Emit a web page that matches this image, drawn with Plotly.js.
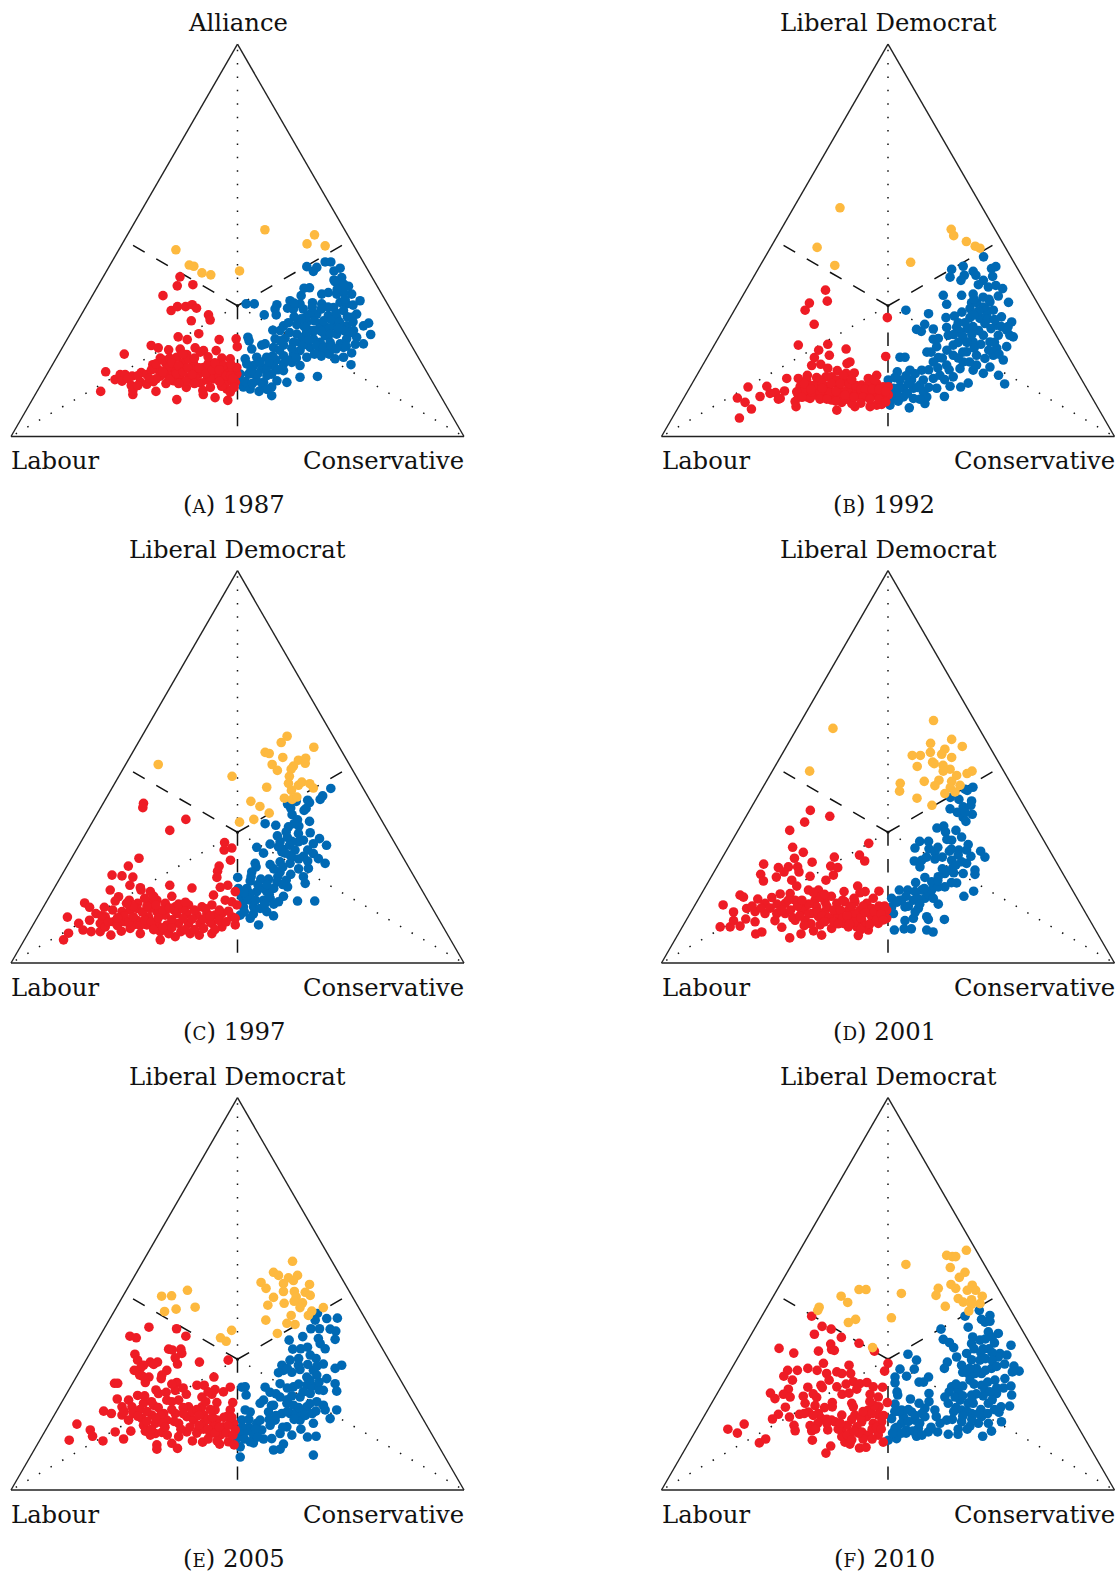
<!DOCTYPE html><html><head><meta charset="utf-8"><script src="https://cdn.plot.ly/plotly-3.0.1.min.js"></script><style>html,body{margin:0;padding:0;background:#fff}</style></head><body><div id="c" style="width:1120px;height:1573px"></div><script>
// Every pair is [Conservative minus Labour share, third-party share], both in percent.
const yelA=[[-27.2,47.6],[-21.3,43.7],[-19.3,43.4],[-15.7,41.7],[-11.8,41.2],[0.9,42.2],[12.1,52.7],[30.7,49.1],[34,51.4],[38.7,48.6]];
const redA=[[-25.4,40.7],[-26.6,38.4],[-19.7,38.7],[-32.9,35.9],[-29.3,32.1],[-26.5,33.1],[-22.9,33.1],[-20,33.6],[-18.1,32.7],[-12.8,31],[-12.1,29.7],[-20.4,29.5],[-26.2,25.4],[-22.2,24.7],[-17.1,26.2],[-8.1,24.7],[-0.6,24.9],[-0.1,22.9],[-38.1,23.2],[-35,22.6],[-50,21],[-58.2,16.5],[-54.1,14.5],[-60.4,11.5],[-46.2,10.7],[-36,11.5],[-26.8,9.4],[-22.6,12.5],[-15.1,10.7],[-9.9,9.9],[-4.3,9.2],[-4.7,12.1],[-42.5,16.3],[-51.8,15.8],[-49.6,15.8],[-46.5,15.4],[-51,14.1],[-46.9,13],[-42.9,13.9],[-40,13.3],[-37.1,14],[-31.6,13.5],[-28.2,14.2],[-24.9,14.5],[-21.2,15.1],[-16.2,13.7],[-13.5,14.4],[-10.6,14.7],[-6.9,15.1],[-4,14.2],[-1,13.8],[-1.8,15.9],[-4.7,16.8],[-8.4,18.5],[-3.2,19.8],[-6.9,20],[-9.4,21.9],[-15,21.9],[-18.7,22.6],[-16.5,21.5],[-25.3,22.3],[-22.4,20.9],[-30.4,22.1],[-34.1,20],[-37.4,18.3],[-34.9,17],[-31.5,18.5],[-26.8,20.2],[-23.8,18.9],[-19.4,18.5],[-15,17.6],[-12.8,16.8],[-29,16.4],[-25.3,15.9],[-34.1,15.4],[-20.1,17.2],[-17.2,15.9],[-9.1,15.9],[-6.2,13.4],[-0.3,15.9],[-46.2,11.7],[-15.3,11.7],[-3.2,11.3],[-28.2,17.6],[-21.6,19.8],[-30.9,17.6],[-2.5,17.6],[-6.2,18.1],[-12.1,15.1],[-18.7,15.1],[-22.6,14.2],[-32.6,15.9],[-35.9,14.7],[-0.3,17.6]];
const redA2=[[-44,15.5],[-40,15.8],[-38,17],[-36,18.5],[-33,19.5],[-30,20],[-29,18.8],[-27,16],[-26,18],[-24,16.5],[-22,17.5],[-20,15.8],[-19,13.5],[-17,17.5],[-14,16],[-13,18.5],[-11,17],[-10,18.8],[-8,17],[-7,12.8],[-5,15.5],[-3,15.5],[-2,14.8],[-1.5,12.5],[-3,18.5],[-8,14],[-12,12.5],[-30,14.5],[-26,13.5],[-33,16.5],[-39,14.8],[-44,13],[-48.5,14.8],[-24,21],[-19,20],[-13,20.3]];
const bluA=[[3.8,33.8],[7.4,33.8],[11.8,31],[17.4,33.6],[16.6,32.5],[17.1,31],[23.2,34.6],[22.1,32.7],[24.7,32.5],[28.1,35.9],[29.4,37.8],[31.8,37.9],[27.6,33.8],[33.1,34.1],[37.2,33.8],[30.6,43.3],[35,43.1],[33.5,42.1],[38.7,44.5],[41.2,44.5],[42.6,42.2],[45.3,42.9],[46,40.5],[42.6,39.9],[44.6,38.4],[49,38.3],[50.4,36.3],[54.1,34.6],[40.1,36.7],[37.2,36.3],[43.8,36.3],[46.8,36.7],[45.3,34.2],[48.2,33.8],[42.4,32.9],[46.8,32.1],[52.6,31.2],[50.4,30.4],[57.9,28.9],[55.6,28.2],[58.8,26],[55.6,23.6],[52.6,25.3],[48.2,28.2],[43.8,30.4],[40.1,30.8],[35,31.2],[32.1,31.2],[36.5,28.2],[30.6,29.1],[32.1,27],[26.2,28.5],[20.3,28.2],[15.6,27.1],[18.8,27],[16.6,24.9],[4.6,25.3],[5.1,24.4],[6.3,22.3],[10.7,23.3],[12.2,23.6],[20.3,23.3],[26.2,26.1],[27.6,24],[33.5,24.9],[38.7,25.7],[43.8,26.1],[48.2,24.9],[46.8,22.7],[50.4,21.3],[50.1,18.3],[43.1,19.8],[46.8,20.2],[39.4,21.9],[36.5,21.9],[32.1,22.7],[27.6,21.9],[24.7,21],[20.3,20.6],[15.9,22.7],[12.9,20.2],[8.5,20.2],[3.4,19.8],[7.1,18.1],[10.7,17.2],[15.9,18.1],[20.3,18.5],[27.6,18.1],[24,18.9],[30.6,20.2],[4.9,15.9],[1.2,15.9],[2.6,12.6],[5.6,12.1],[8.5,14.2],[11.5,13.8],[15.1,15.9],[17.4,14.2],[15.1,10.4],[15.1,12.6],[21.8,13.8],[27.6,15.1],[35.3,15.3],[11.2,13],[20.3,16.8],[33.5,27],[39.4,27.8],[42.4,28.2],[51.2,27],[45.3,23.6],[40.9,24],[36.5,24],[29.1,25.3],[24.7,24],[18.8,24.4],[12.9,17.6],[4.1,18.5],[1.2,14.2],[7.1,15.9]];
const bluA2=[[30,30.3],[34,29.5],[38,29.5],[41.5,29.8],[45,29.2],[48.5,30.5],[51,29.2],[47,27],[50,26.5],[44.5,27.5],[41,26.2],[37,26.8],[34,27],[30.5,26.5],[29,23.3],[31.5,24.6],[35,23.2],[38,22.8],[41.5,23],[43.5,22.3],[48,23],[52,23.5],[34,21],[37,20.5],[40.5,21],[29.5,28],[28,30],[25,30.5],[22.5,29],[23,26.5],[21,25],[24,22.5],[18.5,22],[22,19.5],[26,20],[17,19.5],[14,19],[10,19],[13,15.5],[9,16],[6,17],[3.5,14],[6.5,13.5],[13,12],[9.5,11.5],[18,17],[15.5,20.5],[43,39.5],[47,38.8],[44,37.5],[47.5,35],[51,33.5],[43.5,31.5],[40,33],[37,32.5],[33,33],[29,32.5],[25,34]];
const yelB=[[-21.2,58.3],[-31.3,48.2],[-23.5,43.6],[10,44.4],[27.9,52.8],[29,51.2],[34.6,49.7],[38.5,48.5],[40.6,48]];
const redB=[[-27.6,37.3],[-26.8,34.5],[-34.7,34],[-36.6,32.2],[-32.6,28.6],[-0.3,30.3],[-1,20.4],[-39.6,23.3],[-26.6,23.5],[-30.6,22],[-18.5,22.3],[-25.9,20.7],[-32.5,20.1],[-16.8,19],[-18.1,18.6],[-33.7,18.1],[-29.7,18.4],[-26.6,17.4],[-22.4,16.8],[-14.9,16.2],[-18.5,16.1],[-44.7,14.8],[-61.8,12.6],[-53.5,12.8],[-66.5,9.8],[-63.1,8.7],[-60.3,7],[-65.6,4.7],[-56.5,10.2],[-52.1,11],[-49.7,11.2],[-45.7,11.6],[-48.4,9.5],[-40.6,7.6],[-22.6,6.7],[-14.6,7.6],[-5,15.6],[-8.7,14.8],[-39.6,14.8],[-35.6,15.6],[-31.5,15],[-27.4,15.2],[-24.9,15.2],[-38.8,12.7],[-35.1,13.1],[-30.7,12.7],[-27.1,12.7],[-22.6,14.4],[-19,14],[-15.3,12.7],[-11.6,13.1],[-8.7,13.1],[-5,13.5],[-2.1,12.7],[0.1,12.7],[-39.6,10.6],[-35.9,10.1],[-32.2,10.6],[-28.5,10.6],[-24.1,10.1],[-20.4,10.6],[-16.8,10.6],[-13.1,10.6],[-9.4,10.6],[-5.7,10.6],[-2.1,10.1],[0.1,10.6],[-5,8],[-7.9,7.6],[-2.8,8.2],[-16,8.4],[-20.4,8.7],[-24.9,9.3],[-34.4,9.7],[-41,8.9],[-47.6,9.7],[-37.4,11.4],[-33.7,11.4],[-30,11.4],[-25.6,11.4],[-21.9,12.3],[-18.2,11.8],[-13.8,11.4],[-7.9,11.4],[-3.5,11.4],[-40.3,11.4],[-19.7,15.6],[-30,14.4],[-35.9,14.4]];
const redB2=[[-37,13.5],[-33,13],[-29,13.5],[-25,13.5],[-23,11.5],[-21,13.5],[-17,13.5],[-14,13],[-12,12],[-10,12],[-7,12],[-4,12],[-1,11.5],[-38,10],[-34,12],[-30,9.5],[-27,9.5],[-23,9],[-18.5,9.5],[-15,10],[-11,10],[-8,9.5],[-4,9.5],[-1,8.8],[-29,12.3],[-19,10.5],[-12,8.5],[-16,14.5],[-6,14.5]];
const bluB=[[42.2,45.8],[33.2,43.4],[28.1,42.6],[27.4,40.6],[33.7,41.1],[32.2,39.8],[37.6,42.1],[38.8,41.1],[45.7,42.8],[47.6,43.3],[46.2,40.8],[42.1,39.8],[39.9,38.7],[44.3,38.1],[47.6,38.5],[50.6,37.7],[24.4,36],[32.5,36],[37.6,36.3],[48.7,35.8],[53.2,34.2],[25.9,33.7],[36.9,34.1],[39.1,34.1],[36.2,32.6],[7.9,32.2],[17.9,31.3],[25.6,30.3],[29.3,30.7],[32.6,31.7],[36.2,30.3],[45,34.3],[43.5,32.2],[46.5,32.2],[50.1,30.5],[54.6,29.2],[55.3,25.4],[52.4,27.1],[47.9,28.4],[42.8,28.8],[40.6,30.1],[43.5,30.9],[25.9,27.8],[30.3,27.9],[35,27.5],[37.6,24.1],[31.8,26.7],[12.6,27.3],[14.7,26.8],[16.2,28.6],[20,27.4],[20,24.8],[22.2,25],[21.5,22.9],[26.6,25.8],[28.8,23.3],[34.7,24.1],[42.1,25.8],[45,24.1],[52.4,22.9],[50.9,19.5],[46.5,20.7],[42.8,19.9],[39.1,20.7],[34.7,21.6],[28.8,20.7],[22.2,20.1],[17.2,21.5],[5.3,20.2],[7.5,20.2],[20,19],[25.9,18.2],[31.8,17.3],[37.6,16.9],[42.1,16.1],[45,17.7],[48.8,15.6],[51.5,13.4],[35.4,13.6],[32.1,12.6],[27.4,12.8],[24.9,10.2],[21.5,12.3],[16.3,8.4],[17.1,10.1],[20,14.8],[14.9,16.9],[9.7,16.9],[4.1,16.5],[0.1,14.4],[5.3,14.4],[10.4,14.4],[15.6,14.4],[22.9,15.6],[28.8,15.2],[2.4,12.3],[6.8,12.3],[11.2,12.3],[15.6,11.4],[2.4,9.7],[6.8,10.1],[11.2,9.7],[0.9,8],[9.4,7.3],[3.8,11],[14.1,13.1],[33.2,19],[39.1,18.2],[53.8,25.8],[48.7,25.8]];
const bluB2=[[38,35],[42,35.5],[44.5,35],[42,33],[44,30],[47,29.8],[45.5,27.5],[50,28],[53,28],[40,27],[37.5,28],[34,29],[31,29],[29,26],[33,25.5],[37,26],[44.5,22],[48,22.5],[41,23.5],[38,22.5],[31,24],[33,21.5],[36,19],[31,20],[26,22],[24,20],[19,21.5],[22,17.5],[18,17],[12,16],[8,15.5],[3,15],[13,12.5],[9,13.5],[5,12.5],[1.5,11],[4.5,9],[8.5,11],[14,9.5],[18,12.5],[25,14.5],[40,32],[38,31],[35,24],[27,17],[47,24],[49,21]];
const yelC=[[21.9,57.8],[19.3,56.2],[33.7,55],[12.2,53.7],[14,53.4],[20,52.4],[26.9,51.7],[30.1,52.2],[29.9,50.9],[15.3,50.6],[17.6,49.1],[24.7,50.2],[23.7,49.4],[22.9,47.6],[22.5,45.8],[23.8,44],[26.9,45.3],[28.4,46.1],[31.9,45.7],[33.5,44.6],[12.9,44.8],[20.7,42],[24.1,41.7],[26.2,42.3],[-2.4,47.6],[-35,50.6],[5.9,41.2],[9.9,39.9],[14,38.2],[7.2,36.6],[0.9,35.9]];
const redC=[[-41.5,40.7],[-41.8,39.6],[-22.8,36.6],[-29.9,33.8],[-5.7,30.7],[-5.9,28.8],[-2.5,29.3],[-3.1,26.2],[-8.1,24.7],[-8.8,23.4],[-9.1,21.8],[-43.5,26.7],[-48.2,24.7],[-55.4,22.4],[-51,22.2],[-46.2,21.9],[-47.5,19.8],[-42.9,19.2],[-42.6,18.6],[-38.5,18.2],[-29.9,19.8],[-20.1,19.1],[-29,17],[-7.6,19.3],[-4.3,19.8],[-56.2,18.6],[-52.5,16.9],[-54,15.8],[-47.8,16],[-67.5,15.3],[-65.3,14.2],[-58.8,14.2],[-75.1,11.7],[-70.1,10.1],[-74.6,7.6],[-76.8,5.9],[-68.2,8.4],[-64.6,8],[-65.3,10.9],[-62.5,12.6],[-55.1,13.5],[-58.4,11.8],[-51,13.1],[-47.4,13.5],[-44.1,15.2],[-39.3,15.6],[-35.6,16],[-31.9,15.2],[-27.5,14.3],[-21.6,14.8],[-15.7,14.3],[-10.6,17.3],[-5.4,16],[-2.5,15.6],[-0.3,14.8],[-11.3,14.8],[-6.9,12.6],[-2.5,11.8],[-1,9.7],[-60.6,8],[-55.9,7.1],[-51.3,8.1],[-42.9,7.5],[-34.1,5.9],[-27.5,6.7],[-20.9,7.5],[-16.9,7.1],[-11.3,7.5],[-6.9,9.2],[-34.1,8],[-30.4,7.5],[-60.6,10.1],[-54.7,10.5],[-49.6,10.5],[-44.4,10.9],[-39.3,11.8],[-35.6,13.1],[-31.9,12.2],[-26.8,12.6],[-22.4,12.6],[-17.9,12.2],[-13.5,12.6],[-9.9,12.2],[-58.4,9.2],[-47.4,8.8],[-40,9.7],[-35.6,10.1],[-31.2,9.7],[-26,10.1],[-21.6,10.1],[-16.5,10.1],[-11.3,10.1],[-1,11.4],[-44.4,13.9],[-38.5,13.9],[-1,18.2],[-12.1,10.5],[-51.8,10.5],[-45.9,9.7]];
const redC2=[[-57,10.5],[-53,9.5],[-50,12],[-48,10.5],[-46,11.8],[-43,9.5],[-41,11],[-38,10.5],[-37,8.5],[-35,11.5],[-33,9],[-33,13.5],[-29,11],[-29,9],[-28,13.5],[-25,8],[-24,11.3],[-24,13.8],[-23,8.5],[-20,11.2],[-19,8.5],[-19,13.5],[-15,11.2],[-15,8.8],[-14,13.8],[-12,12],[-10,8.5],[-8,10.8],[-8,13.5],[-5,10.5],[-4,13.2],[-42,13],[-40,14.5],[-36,14.8],[-30,14],[-26,15],[-23,15.5],[-53,11.5],[-60,12],[-46,14.5],[-49,15.2],[-41,16.5],[-37,17]];
const bluC=[[41.2,44.5],[37.6,42.6],[36.5,41.7],[31,41.5],[31.8,40.9],[25.9,41.2],[22.1,40.5],[23.5,39.5],[24.1,37.8],[29.4,38.9],[30.3,39.4],[31.8,36.1],[26.5,36.5],[27.1,34.9],[12.2,35.5],[16.9,35.1],[22.5,34.7],[21.5,33.4],[17.6,32.4],[32.1,33.2],[36.2,31.7],[26.9,33],[29.1,31.3],[33.5,30.4],[39.3,30],[14.4,30.3],[8.5,29.5],[11.5,28],[18.1,29.6],[19.6,28.3],[25.4,28.8],[29.1,27.2],[33.5,27.9],[35.7,26.6],[38.7,25.4],[31.3,24.1],[7.8,25.4],[8.2,24.5],[6.3,23.2],[14.4,25.1],[18.8,25.8],[23.2,25.4],[18.8,23.2],[23.5,22.6],[0.1,21.8],[5.6,20.9],[10.3,21.4],[13.7,21.4],[17.8,22],[21.5,21.1],[29.1,22],[29.9,20.3],[22.1,19.4],[17.4,20.7],[0.4,19],[4.1,19],[8.5,18.2],[12.9,18.2],[20.3,17],[18.1,15.6],[26.5,15.8],[34.1,15.8],[1.9,16.9],[5.6,16],[11.5,16],[14.4,16.5],[2.6,14.3],[7.1,14.3],[10,13.9],[12.9,13.1],[15.9,12],[5.6,11.4],[9.3,9.7],[1.2,12.2],[11.5,19],[5.6,17.7],[23.2,27.5],[26.9,30.9],[18.8,30.9],[2.6,15.6]];
const bluC2=[[20,29],[23,30],[24,27],[27,26.5],[31,28.8],[31,26],[27,24],[20,24.5],[21,28],[16,24],[20,20],[16,19],[13,20],[9,20],[4,17],[8,16],[3,13],[7,12.5],[16,15],[12,15],[6,22],[24,31],[22,32],[25,35.5],[14,17.5],[3,18]];
const yelD=[[20.1,61.8],[28.1,57],[-24.3,59.8],[18.8,56],[32.8,55.2],[25.1,54.5],[18.7,53.7],[23.7,53.2],[10.7,52.9],[14.3,52.9],[28.1,52.4],[19.7,51.2],[20.4,50.8],[12.9,50.1],[24.3,50.4],[27.4,49.4],[24.4,48.9],[37.1,48.9],[34.9,48.3],[30.3,47.8],[-34.6,48.9],[16,46.3],[22.5,46.6],[28.1,46.3],[20.7,45.2],[5.4,45.8],[5.1,43.8],[27.5,44.7],[31.8,45.3],[29.6,43.6],[25.1,43.2],[12.8,42],[19.4,40.2]];
const redD=[[-34.3,38.9],[-25.7,37.4],[-36.8,35.9],[-43.4,33.8],[-8.5,30.5],[-42.1,29.5],[-37.4,28.2],[-41.3,26.7],[-23.7,27],[-12.6,27.5],[-10.3,26],[-33.5,25.7],[-54.9,25.2],[-48.4,24.3],[-44,24.5],[-39.9,24.5],[-45.9,23.2],[-39.3,23.2],[-25.3,24.7],[-22.2,24.3],[-24.1,22.4],[-34.4,22.1],[-56.2,22.6],[-49.3,21.9],[-55,20.9],[-42.5,21.1],[-27.4,21.1],[-40.3,19.6],[-13.4,19.6],[-4,18.3],[-19.4,18.2],[-12.4,17.9],[-10.1,18.2],[-65.3,17.3],[-63.8,16.8],[-72.8,14.8],[-68.2,13],[-62.4,13.9],[-57.5,16.3],[-51.3,16.7],[-47.6,17.6],[-43.2,17.7],[-35.1,18.6],[-30.7,18.6],[-58.7,13.1],[-54.3,15.2],[-54.3,12.6],[-49.1,12.6],[-45.4,15.2],[-41,16],[-36.6,14.3],[-32.2,16],[-27.8,15.6],[-22.6,15.2],[-19,15.6],[-14.6,15.6],[-9.4,15.2],[-6.5,16.5],[-2.8,14.3],[-0.6,13.5],[-0.6,11.4],[-4.3,10.1],[-8.7,8.4],[-13.1,7],[-17.5,9.2],[-24.9,8.8],[-30,9.7],[-29.3,7.1],[-32.9,8.2],[-38.4,7.4],[-43.4,6.4],[-46.9,9.1],[-55.7,7.9],[-58.4,7.4],[-74.1,9.2],[-69.7,9.2],[-68.2,10.8],[-65.3,9.4],[-62.8,11.2],[-58.7,10.5],[-49.9,10.8],[-41,10.9],[-36.6,10.9],[-30.7,11.8],[-25.6,11.4],[-21.2,11.4],[-16.8,11.4],[-11.6,10.9],[-7.2,11.8],[-45.4,12.6],[-38.1,13.5],[-33.7,12.6],[-27.8,13.1],[-22.6,12.6],[-17.5,13.5],[-12.4,13.5],[-7.2,13.9],[-14.6,12.6],[-19.7,10.1],[-13.8,9.2],[-31.5,14.3]];
const redD2=[[-52,14],[-49,15],[-47,13.5],[-43,13.5],[-42,11.5],[-40,14.5],[-39,12],[-35,15],[-35,12.5],[-34,10],[-31,13],[-30,16.8],[-29,12],[-27,14.5],[-26,11.5],[-25,17],[-24,13.5],[-24,10.5],[-21,13.5],[-20,16],[-20,11.5],[-18,12],[-16,14.5],[-15,16.5],[-15,10.5],[-12,11.5],[-11,14.5],[-10,12.8],[-10,9.5],[-8,10],[-6,13],[-5,11],[-4,14.5],[-3,12.5],[-2,11],[-1.5,14.5],[-28,17.5],[-33,18],[-38,16],[-44,16],[-56,14],[-60,14.5],[-37,9.5],[-28,10.5],[-22,10],[-17,10],[-12,8.5]];
const bluD=[[37.5,44.8],[34,44.3],[27.5,42.2],[31.3,41.7],[36.9,41.3],[36.6,40.2],[33.2,39.8],[27.4,39.3],[30.6,38.4],[37.2,37.9],[33.2,37.1],[34.4,36.1],[21.6,34.4],[24.6,34.9],[25.4,33.4],[30,33.8],[32.5,32.1],[28.1,31.3],[14,31],[17.9,31],[11.9,29.3],[18.1,29.1],[20.7,28.2],[27.1,28.5],[31.3,28.8],[35.4,30.2],[34.7,28.8],[40.9,28.5],[42.8,27],[36.6,27.2],[11.6,26],[14.9,26.2],[14.1,24.5],[20.7,26.5],[28.1,26.2],[32.5,25.8],[34.7,25.4],[28.8,24.5],[33.2,22.8],[38.4,23.7],[38.4,22.6],[25.1,22.8],[22.2,22],[16.3,21.8],[30.3,20.4],[12.2,20.5],[25.1,19.4],[19.3,18.6],[37.8,18.3],[33.5,17],[5,18.6],[8.7,18.6],[14.9,18.6],[1.6,16.5],[6,16],[11.2,16],[16.3,16.5],[22.2,15],[1.6,14.3],[7.5,14.3],[13.4,13.9],[2.4,12.6],[11.2,11.4],[7.5,10.8],[17.1,11.8],[24.9,11.1],[17.8,11.1],[2.8,8.4],[7.1,8.7],[10.3,8.7],[17.1,8.4],[19.9,7.9],[19.3,20.7],[22.2,19.4],[11.9,18.2]];
const bluD2=[[5,16],[8,17],[13,16.5],[14,15],[9,14.5],[4,15.5],[18,17.5],[20,16.5],[16,19],[22,21],[24,24],[26,23.5],[29,23],[30,25],[31,27.5],[28,29],[24,27],[22,29.5],[26,31.5],[17,27],[12,13],[28,20.5],[35,44],[34,38.5]];
const yelE=[[24.3,58.3],[15.9,55.5],[18.1,54.7],[26.5,54.7],[22.5,54.1],[24.7,53.4],[20.3,52.6],[10.4,52.9],[12.6,51.4],[31.8,52.4],[20.3,50.6],[25.1,50.6],[29.9,50.4],[32.1,49.6],[15.9,49.1],[25.9,49.2],[25,48.1],[20.6,47.6],[13.4,47.1],[28.7,47.7],[27.6,46.5],[37.9,46.5],[32.8,45.6],[31.3,44.5],[23.7,44.5],[12.5,43.3],[21.8,42.5],[25.4,42.2],[17.6,39.9],[-22.1,50.9],[-33.5,49.4],[-29.1,49.5],[-18.7,46.6],[-27.1,46.1],[-32.2,45.5],[-2.6,40.7],[-7.5,38.8],[-5,37.9]];
const redE=[[-39.1,41.5],[-26.9,41.1],[-47.5,39.2],[-44.7,38.8],[-22.8,39.2],[-30.4,35.9],[-28.8,35.7],[-25,35.9],[-24.6,34.8],[-27.5,33.7],[-26.5,32.1],[-45.3,34.6],[-44.1,33.1],[-35.3,32.6],[-38.5,32.6],[-41.5,31.8],[-45.6,30.5],[-42.9,31],[-31.2,30.5],[-33.4,29.3],[-33.7,28.4],[-43.2,29.3],[-39.1,28.8],[-40.7,27.4],[-16.8,32.6],[-4.1,33.1],[-10.4,28.8],[-54.3,27.2],[-52.9,27.2],[-26.8,27.4],[-17.9,26.7],[-14.7,26.7],[-3.2,26.2],[-9.9,25.6],[-6.2,25],[-34.9,24.6],[-31.5,24.9],[-27.5,25.4],[-22.6,24.4],[-44.1,24.1],[-53.1,23.2],[-48.1,22.9],[-15.7,23.7],[-11.3,24.4],[-2.1,22.3],[-9.1,22.3],[-59.1,20.1],[-55.7,19.5],[-51,21.2],[-46.6,21.2],[-41.5,22.1],[-37.1,21.6],[-31.2,22.9],[-26,22.9],[-21.6,21.2],[-15.7,21.2],[-9.9,20.4],[-3.2,20.4],[-51,19.1],[-48.1,17.8],[-42.2,18.2],[-37.8,19.1],[-32.6,19.5],[-27.5,19.5],[-22.4,18.7],[-15,19.1],[-9.1,17.8],[-4.7,18.7],[-41.5,16.5],[-36.3,17],[-31.2,17.8],[-26,17],[-19.4,17.8],[-15,17],[-10.6,16.5],[-6.2,16.1],[-1.8,17],[-70.9,16.8],[-65,15.3],[-64,13.7],[-74.3,12.7],[-59.4,12.5],[-54,14.8],[-50.3,13],[-47.1,15],[-40.7,15],[-36.3,14.4],[-33.4,14.7],[-35.6,11.5],[-35.6,10.4],[-29,11.9],[-26.5,10.6],[-26,13.6],[-22.4,14.8],[-19.9,12.5],[-15.4,12.2],[-12.1,14.4],[-7.9,11.7],[-4,12.3],[-1.5,11.5],[-17.2,15.3],[-7.6,14],[-1,15.3],[-38.5,14]];
const redE2=[[-50,20],[-46,19.5],[-43,20.5],[-40,20],[-38,22.5],[-35,21],[-34,19],[-36,18.2],[-33,17],[-29,20.5],[-29,22.5],[-28,17.5],[-24,21],[-24,19.5],[-25,15.5],[-20,20],[-18,20.5],[-17,19],[-18,14.5],[-15,15.5],[-13,18],[-13,15.5],[-13,13],[-11,18.5],[-10,14.5],[-9,12.5],[-8,16],[-6,18.5],[-5,14.5],[-4,16.5],[-2,14],[-2.5,18.5],[-12,20.5],[-17,16.5],[-21,16],[-14,22.5],[-13,25],[-40,17.5],[-44,18.8],[-38,15.5],[-32,16],[-31,14],[-41,24],[-36,25.5],[-29,27],[-24,26],[-42,29],[-37,32]];
const bluE=[[35.3,45],[39.4,43.7],[44.1,43.8],[34.3,43.3],[36.2,41.1],[32.4,41.1],[40.9,41],[43.4,40.5],[22.8,38.2],[28.8,39.1],[35.7,38.6],[43.1,38.4],[36.5,37.3],[38.7,36],[24.4,35.9],[27.9,36],[30.9,36.4],[32.1,34.4],[34.7,33.5],[23.2,33.1],[19.6,31.8],[26.9,31.8],[27.6,30.7],[20.3,30.5],[18.1,29.9],[37.9,32.1],[46,31.8],[43.1,31],[33.5,30.5],[30.6,28.8],[35,29.3],[39.4,28.4],[43.1,27.1],[43.8,25.2],[37.9,25.4],[30.6,26.7],[24.7,26.3],[18.8,27.1],[1.9,26.2],[3.4,26.3],[12.2,26.2],[14.4,24.9],[3.8,24.2],[11.5,22.9],[10,22.1],[18.8,23.7],[15.9,21.6],[21.8,22.1],[27.6,23.7],[32.1,24.6],[35,22.5],[37.9,21.6],[43.8,20.4],[40.9,18.2],[38.7,20.4],[34.6,20.1],[30.6,21.2],[24.7,21.6],[19.6,19.5],[13.7,19.9],[23.2,19.5],[27.6,17.8],[33.5,17],[3.4,20.4],[5.6,19.9],[1.9,17.8],[8.5,17],[14.4,16.5],[18.8,14.4],[24,14],[10.7,15.3],[30.9,13.5],[34.7,13.7],[1.9,14.4],[7.1,14],[11.5,13],[15.1,13.1],[20.3,11.7],[18.8,10.4],[15.9,10.2],[5.6,12.3],[1.2,11],[1.2,8.4],[33.5,8.9],[21.8,16.1],[29.1,19.5],[-0.3,13.1],[16.6,17.8],[10,17.8]];
const bluE2=[[22,26],[27,27],[29,25],[33,26.5],[36,25.5],[36,27.5],[32,28],[24,24],[22,20],[26,19.5],[27,21],[30,19],[33,19.5],[25,18],[28,15.5],[22,23],[17,24.5],[17,19],[15,21.5],[14,18],[32,22],[35,31.5],[31,32],[24,30],[22,31],[27,33.5],[5,16],[4,15],[8,15.5],[5,18],[2,16],[3,13],[7,12],[0.5,15],[9,13.5],[20,16]];
const yelF=[[34.6,61.1],[25.9,59.8],[28.4,59.5],[29.9,59.5],[7.9,57.5],[27.5,56.7],[34,55.5],[31.5,54.2],[27.8,52.4],[29.9,51.4],[37.2,52.2],[22.2,51.4],[21.2,49.6],[35,50.9],[38.7,50.9],[41.6,49.4],[5.9,50.1],[-12.8,51.1],[-9.7,51.1],[-20.7,49.4],[-17.8,47.8],[-30.4,46.6],[-31,45.8],[31,48.8],[33.2,47.9],[36.9,48.5],[36.9,47.3],[40.6,47.5],[25.3,46.8],[35.7,45.6],[1.5,43.9],[-14.3,43.5],[-17.5,42.7],[-6.8,36.3]];
const redF=[[-33.7,44.3],[-29.1,41.7],[-25.1,41],[-32.5,39.7],[-20.6,38.9],[-48.1,36.1],[-41.6,34.9],[-25.3,37.2],[-24.9,35.8],[-23.7,35.6],[-30.7,35.4],[-12.8,37.4],[-6,35.4],[0,32.3],[-1.5,30.3],[-28.5,32.3],[-35.4,31],[-31.3,30.5],[-40,30.5],[-44.3,30.5],[-46,29],[-42.2,28],[-22.6,30.1],[-20.4,29.7],[-17.2,31.8],[-16.5,29.7],[-27.1,29.7],[-26,28],[-15.3,27.6],[-44,25.7],[-46.2,24.4],[-43.2,23.7],[-51.9,24.7],[-49.9,23.3],[-45.3,21.1],[-35.4,26.2],[-29.6,26.7],[-29,26.1],[-22.6,26.3],[-18.5,27],[-12.4,27.1],[-9.3,27.4],[-13.8,25.7],[-20.3,24.4],[-17.2,24.7],[-6.5,26.3],[-2.4,26.2],[-7.9,24.4],[-4.3,23.7],[-0.3,22.3],[-37.4,23.9],[-31.5,23.6],[-36.6,22.1],[-32.2,21.5],[-24.6,22.3],[-24.6,21.2],[-16,22.1],[-4,21.2],[-39.1,19.3],[-48.4,19.3],[-51,18.1],[-43.5,18.6],[-41.5,16.5],[-41,15.1],[-63.5,16.8],[-70.7,15.5],[-66.5,14.5],[-56.8,12],[-54,13],[-33.4,12.7],[-25.3,11.2],[-27.4,9.4],[-19,12.2],[-16.8,11.7],[-12.6,10.7],[-9.7,10.9],[-2.1,12.2],[-34.4,16.4],[-33.7,15.1],[-29.3,18.2],[-24.9,17.8],[-35.1,19.9],[-30.7,19.5],[-26.6,15.3],[-20.4,15.3],[-14.6,19.1],[-15.3,21.2],[-8.7,20.4],[-4.3,19.1],[-11.6,17.4],[-6.5,17],[-2.8,17.4],[-11.6,14.8],[-8.7,14],[-4.3,14],[-20.4,13.6],[-16.8,14.4],[-23.4,17.4],[-20.4,19.1],[-9.4,18.7],[-13.8,16.1]];
const redF2=[[-31,17],[-32,15.5],[-27,18],[-27,17],[-22,15.5],[-18,16.5],[-18,14],[-16,12.8],[-12,18.5],[-11,20],[-7,19.5],[-6,21.5],[-7,15.5],[-7,13],[-5,16],[-3,15.5],[-11,13],[-13,14.5],[-2,19],[-8,22.5],[-37,19.5],[-33,24.5],[-33,19],[-28,21],[-21,17],[-16,18],[-15,15]];
const bluF=[[40.3,45.8],[34,44.3],[41.3,43.5],[45,44.5],[42.8,42.8],[35.4,41.5],[23.4,41],[44.3,40.3],[48.7,39.9],[37.4,39],[40.6,38.2],[24.4,38.4],[27.1,37.6],[29,36.3],[54.3,36.9],[36.9,37.3],[44.6,36],[49.4,34.8],[52.5,34.4],[30.3,33.9],[34.7,34.8],[36.9,33.2],[40.6,33.1],[8.8,34.6],[12.6,33.1],[5.3,30.8],[11.6,30.8],[26.2,32.6],[24.9,31],[32.5,31.8],[51.5,32.1],[55.6,31.6],[57.9,30.3],[54.9,30.1],[8.2,29],[3.1,28.8],[3.1,27.3],[13.7,27.5],[15.7,27.5],[17.9,28.8],[35.4,29.7],[41.3,29.7],[45.7,31],[51.6,28.4],[54.3,26.5],[47.2,28],[41.3,26.7],[36.2,28],[28.1,26.3],[31,25],[36.9,24.2],[42.8,25.4],[47.9,24.6],[54.6,24.2],[4,25],[4.3,24.2],[18.1,24.6],[18.1,22.5],[25.1,23.7],[31.8,22.9],[37.6,22.1],[44.3,22.1],[53.7,21.4],[49.9,21.2],[49,19.8],[9.9,23.2],[13.7,22.1],[3.1,21.9],[6,20.4],[10.4,19.9],[16.3,20.8],[20.7,20.4],[26.6,22.1],[32.5,20.4],[36.9,19.5],[41.3,18.7],[1.6,18.2],[6.8,18.7],[11.9,17.8],[16.3,18.7],[21.3,18.7],[25.9,17.8],[28.4,18],[32.5,17.4],[36.2,16.3],[44.3,17],[50.1,17.4],[45.7,15],[41.8,13.7],[26.6,14.2],[30.9,14.2],[21.9,14.8],[17.8,14.8],[12.6,13.7],[8.2,15.3],[3.8,13.1],[0.1,12.7],[3.1,15.7],[13.4,15.7],[39.9,17],[35.4,22.1],[48.7,33.9],[38.4,29.7],[29.6,23.7]];
const bluF2=[[38,36],[42,36],[46,35],[41,35],[43,33.5],[46,33],[48,31.5],[43,30.5],[39,31],[36,31],[33,30],[38,27],[44,27.5],[48,26],[51,26],[45,25],[42,24],[39,24.5],[37,23],[33,24],[33,26.5],[30,27],[27,25],[41,20.5],[44,19.5],[47,20.5],[46,23],[40,19.5],[35,20],[33,18.8],[30,21],[37,18],[45,43],[46,39],[43,38.5],[47,37.5],[6,17],[9,17.5],[9,20.5],[12,19],[14,17],[15,19.5],[4,16],[5,20],[8,14.5],[11,15],[15,14],[2,14.5],[6,14.5],[19,16],[23,17],[29,20],[31,15.5],[35,15.5],[3,20]];
const titles=['Alliance','Liberal Democrat','Liberal Democrat','Liberal Democrat','Liberal Democrat','Liberal Democrat'];
const letters=['A','B','C','D','E','F'];
const years=[1987,1992,1997,2001,2005,2010];
const blues=[bluA.concat(bluA2),bluB.concat(bluB2),bluC.concat(bluC2),bluD.concat(bluD2),bluE.concat(bluE2),bluF.concat(bluF2)];
const reds=[redA.concat(redA2),redB.concat(redB2),redC.concat(redC2),redD.concat(redD2),redE.concat(redE2),redF.concat(redF2)];
const yellows=[yelA,yelB,yelC,yelD,yelE,yelF];

const W=1120,H=1573;
const anns=[],traces=[],layout={width:W,height:H,margin:{l:0,r:0,t:0,b:0},showlegend:false,paper_bgcolor:'#fff',annotations:anns};
const cx=[237.5,888],by=[436.5,963,1490];
const font={family:'DejaVu Serif',size:24.3,color:'#111'};
const pts=(d,col,k)=>traces.push({type:'scatterternary',subplot:k,mode:'markers',a:d.map(p=>p[1]),c:d.map(p=>(100-p[1]+p[0])/2),b:d.map(p=>(100-p[1]-p[0])/2),marker:{color:col,size:9.6,line:{width:0}},cliponaxis:false,hoverinfo:'skip'});
for(let i=0;i<6;i++){const X=cx[i%2],B=by[i>>1],k=i?'ternary'+(i+1):'ternary';
 layout[k]={sum:100,domain:{x:[(X-226.5)/W,(X+226.5)/W],y:[1-B/H,1-(B-392.3)/H]},bgcolor:'rgba(0,0,0,0)'};
 for(const a of['aaxis','baxis','caxis'])layout[k][a]={min:0,title:{text:''},showgrid:false,ticks:'',showticklabels:false,showline:true,linecolor:'#222',linewidth:1.4};
 const c=100/3;
 [[100,0,0],[0,100,0],[0,0,100]].forEach(v=>traces.push({type:'scatterternary',subplot:k,mode:'lines',a:[c,v[0]],b:[c,v[1]],c:[c,v[2]],line:{color:'#111',width:1.5,dash:'1.5px,11.9px'},hoverinfo:'skip'}));
 [[48.8,48.8,2.4],[48.8,2.4,48.8],[2.4,48.8,48.8]].forEach(v=>traces.push({type:'scatterternary',subplot:k,mode:'lines',a:[c,v[0]],b:[c,v[1]],c:[c,v[2]],line:{color:'#111',width:1.5,dash:'13.4px,13.4px'},hoverinfo:'skip'}));
 pts(blues[i],'#0069b4',k);pts(reds[i],'#ee1c25',k);pts(yellows[i],'#fdb93f',k);
 const add=(t,x,y,xa)=>anns.push({text:t,x:x/W,y:1-y/H,xref:'paper',yref:'paper',xanchor:xa,yanchor:'middle',showarrow:false,font});
 add(titles[i],X,B-414,'center');add('Labour',X-228.5,B+24,'left');add('Conservative',X+228.5,B+24,'right');
 add('(<span style="font-size:75%">'+letters[i]+'</span>) '+years[i],X-4,B+68.5,'center');
}
Plotly.newPlot('c',traces,layout,{staticPlot:true});
</script></body></html>
